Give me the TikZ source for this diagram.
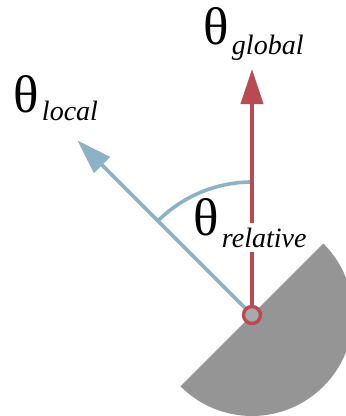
\documentclass[tikz,border=0pt]{standalone}
\usepackage{fontspec}
\setmainfont{Liberation Serif}
\usetikzlibrary{arrows.meta, calc}
\definecolor{robotred}{HTML}{B84A52}
\definecolor{localblue}{HTML}{8DB2C6}
\definecolor{bodygray}{HTML}{959595}
\definecolor{jointgray}{HTML}{A7A9AC}
\tikzset{
  thetalbl/.style={inner sep=0pt, anchor=base west, font=\fontsize{53}{53}\selectfont},
  sublbl/.style={inner xsep=0pt, inner ysep=0pt, anchor=base west, font=\fontsize{28}{28}\selectfont\itshape},
  vec/.style={line width=3.6pt, -{Triangle[length=35pt,width=22pt]}},
}

\begin{document}
\begin{tikzpicture}[x=1pt,y=1pt]
            \useasboundingbox (-252,-101) rectangle (94,315);
            % half body of the robot
            \begin{scope}
              \clip (-252,-101) rectangle (94,315);
              \fill[bodygray] (0,0) -- (45:101) arc[start angle=45, end angle=-135, radius=101] -- cycle;
            \end{scope}
            \coordinate (joint) at (0,0);
            \coordinate (globaltip) at (0,246);
            \coordinate (localtip) at (135:247);
            \coordinate (arcstart) at (135:133);
            \draw[vec, localblue] (joint) -- (localtip);
            \draw[localblue, line width=3.6pt] (arcstart) arc[start angle=135, end angle=90, radius=133];
            \draw[vec, robotred] (joint) -- (globaltip);
            % labels
            \node[thetalbl] (globth) at (-49,270) {θ};
            \node[sublbl] (globsub) at ($(globth.base east)+(3,-10)$) {global};
            \node[thetalbl] (locth) at (-239,203) {θ};
            \node[sublbl] (locsub) at ($(locth.base east)+(3,-9)$) {local};
            \node[thetalbl] (relth) at (-59,80) {θ};
            \node[sublbl, fill=white, inner ysep=5pt] (relsub) at ($(relth.base east)+(3,-12)$) {relative};
            \draw[robotred, line width=3.4pt, fill=jointgray] (joint) circle[radius=8.5];
\end{tikzpicture}
\end{document}
